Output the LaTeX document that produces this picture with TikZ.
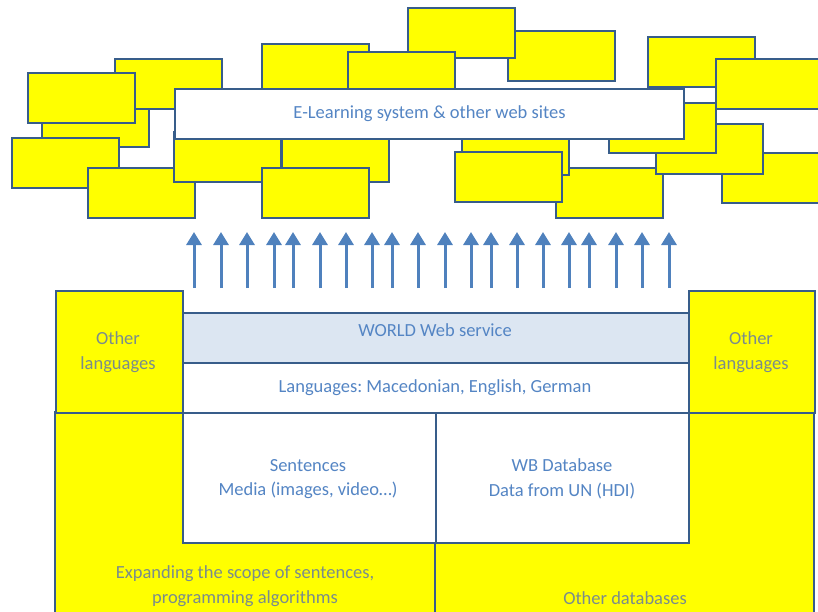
\documentclass[tikz,border=0pt]{standalone}
\usepackage{fontspec}
\setmainfont{Carlito}
\frenchspacing
\usetikzlibrary{arrows.meta}
\definecolor{yel}{RGB}{255,255,0}
\definecolor{edge}{RGB}{56,93,138}
\definecolor{txt}{RGB}{84,133,196}
\definecolor{ytxt}{RGB}{122,140,140}
\definecolor{lightb}{RGB}{220,230,242}
\definecolor{arr}{RGB}{79,129,189}
\newcommand{\tf}{\fontsize{18.5}{24.5}\selectfont}
\tikzset{
  yb/.style={draw=edge,fill=yel,line width=2pt},
  wbox/.style={draw=edge,fill=white,line width=2pt,inner sep=0pt,anchor=north west,
    font=\tf,text=txt,align=center},
  ybox/.style={wbox,fill=yel,text=ytxt},
  ytext/.style={font=\tf,text=ytxt,align=center,inner sep=0pt},
  btext/.style={font=\tf,text=txt,align=center,inner sep=0pt},
  uparrow/.style={draw=arr,line width=3pt,-{Triangle[width=15pt,length=13pt]}}
}
\newcommand{\yr}[2]{\draw[yb] (#1,#2) rectangle ++(107,50);}
\begin{document}
\begin{tikzpicture}[x=1pt,y=-1pt]
\useasboundingbox (0,0) rectangle (818,612);
\clip (0,0) rectangle (818,612);
% cloud of yellow rectangles
\yr{508}{31}
\yr{408}{8}
\yr{262}{44}
\yr{348}{52}
\yr{42}{97}
\yr{115}{59}
\yr{28}{73}
\yr{12}{138}
\yr{88}{168}
\yr{174}{132}
\yr{282}{132}
\yr{262}{168}
\yr{556}{168}
\yr{462}{125}
\yr{455}{152}
\yr{722}{153}
\yr{656}{124}
\yr{609}{103}
\yr{648}{37}
\yr{716}{59}
\node[wbox,minimum width=509pt,minimum height=50pt] (elearn) at (174,88) {E-Learning system \& other web sites};
% arrows
\foreach \x in {194,221,247,274,293,320,346,372,392,418,445,471,491,517,543,569,589,616,642,669}
  \draw[uparrow] (\x,288) -- (\x,232);
% bottom structure
\draw[yb,line width=1.6pt] (55,412) rectangle (435,640);
\draw[yb,line width=1.6pt] (435,412) rectangle (814,640);
\node[ybox,line width=1.6pt,minimum width=127pt,minimum height=122pt] (olL) at (55,290) {};
\node[ybox,line width=1.6pt,minimum width=126pt,minimum height=122pt] (olR) at (688,290) {};
\node[wbox,line width=1.6pt,fill=lightb,minimum width=506pt,minimum height=50pt] (world) at (182,312) {};
\node[wbox,line width=1.6pt,minimum width=506pt,minimum height=50pt] (lang) at (182,362) {};
\node[wbox,line width=1.6pt,minimum width=253pt,minimum height=130pt] (sent) at (182,412) {};
\node[wbox,line width=1.6pt,minimum width=253pt,minimum height=130pt] (wb) at (435,412) {};
% texts
\node[ytext] (t1) at (118,352) {Other\\languages};
\node[ytext] (t2) at (751,352) {Other\\languages};
\node[btext] (t3) at (435,330) {WORLD Web service};
\node[btext] (t4) at (435,388) {Languages: Macedonian, English, German};
\node[btext] (t5) at (308,479) {Sentences\\Media (images, video…)};
\node[btext] (t6) at (562,479) {WB Database\\Data from UN (HDI)};
\node[ytext] (t7) at (245,586) {Expanding the scope of sentences,\\programming algorithms};
\node[ytext] (t8) at (625,598) {Other databases};
\end{tikzpicture}
\end{document}
